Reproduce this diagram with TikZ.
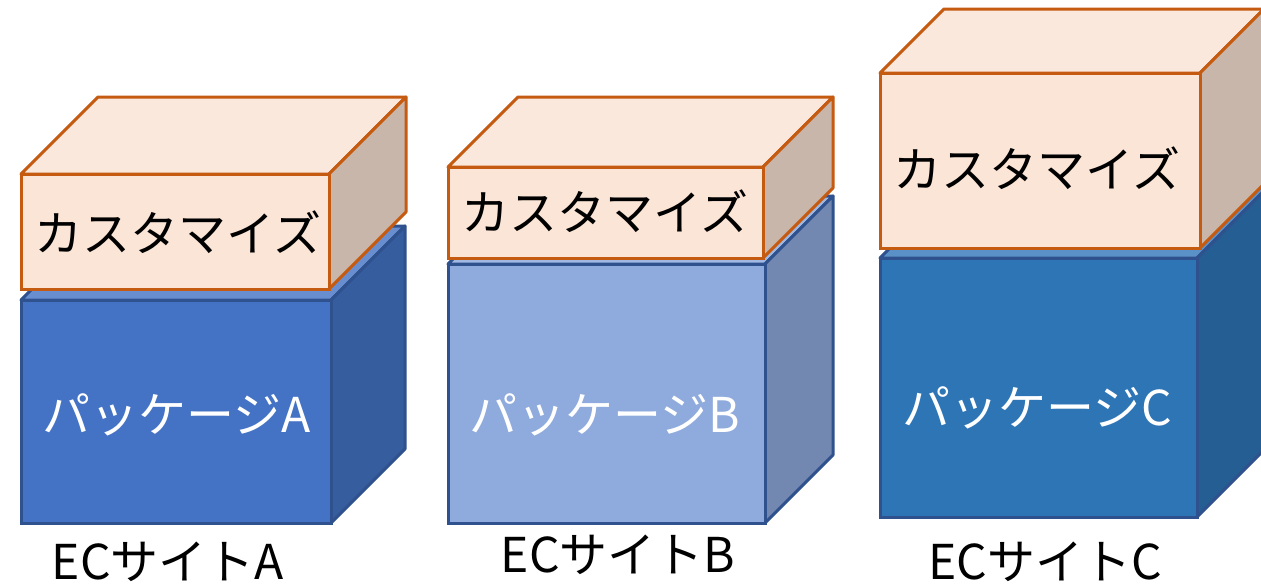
\documentclass[tikz,border=0pt]{standalone}
\usepackage{fontspec}
\newfontfamily\jpfont{Noto Sans CJK JP}
\usepackage{tikz}
\usetikzlibrary{positioning}

\definecolor{custfront}{HTML}{FBE5D6}
\definecolor{custtop}{HTML}{FBE8DC}
\definecolor{custside}{HTML}{C9B6AA}
\definecolor{custline}{HTML}{C55A11}
\definecolor{pkgAfront}{HTML}{4472C4}
\definecolor{pkgAtop}{HTML}{698ED0}
\definecolor{pkgAside}{HTML}{365D9E}
\definecolor{pkgAline}{HTML}{2F528F}
\definecolor{pkgBfront}{HTML}{8FAADC}
\definecolor{pkgBtop}{HTML}{A0B8E2}
\definecolor{pkgBside}{HTML}{7388B0}
\definecolor{pkgBline}{HTML}{2F528F}
\definecolor{pkgCfront}{HTML}{2E75B6}
\definecolor{pkgCtop}{HTML}{5A92C8}
\definecolor{pkgCside}{HTML}{255E92}
\definecolor{pkgCline}{HTML}{2F528F}

% #1 colour prefix, #2 x, #3 y (front top left), #4 width, #5 height, #6 depth
\newcommand{\cuboid}[6]{%
  \draw[draw=#1line, fill=#1top, line width=1.5pt, line join=round]
    (#2,#3) -- ++(#6,-#6) -- ++(#4,0) -- ++(-#6,#6) -- cycle;
  \draw[draw=#1line, fill=#1side, line width=1.5pt, line join=round]
    (#2+#4,#3) -- ++(#6,-#6) -- ++(0,#5) -- ++(-#6,#6) -- cycle;
  \draw[draw=#1line, fill=#1front, line width=1.5pt]
    (#2,#3) rectangle ++(#4,#5);
}

\begin{document}
\begin{tikzpicture}[x={(0.5pt,0)}, y={(0,-0.5pt)},
    every node/.style={font=\jpfont\fontsize{24}{27}\selectfont, inner sep=0pt},
    custtext/.style={text=black},
    pkgtext/.style={text=white},
    sitetext/.style={text=black}
]
\useasboundingbox (0,0) rectangle (1261,586);
\clip (0,0) rectangle (1261,586);

% site A
\cuboid{pkgA}{21}{300}{310}{223}{74}
\cuboid{cust}{21}{174}{308}{115}{77}
\node (custA) [custtext] at (178,232) {カスタマイズ};
\node (pkgA) [pkgtext] at (177,415) {パッケージA};
\node (siteA) [sitetext] at (168,562) {ECサイトA};

% site B
\cuboid{pkgB}{448}{264}{317}{259}{68}
\cuboid{cust}{448}{167}{315}{91}{70}
\node (custB) [custtext] at (605,211) {カスタマイズ};
\node (pkgB) [pkgtext] at (605,415) {パッケージB};
\node (siteB) [sitetext] at (618,555) {ECサイトB};

% site C
\cuboid{pkgC}{880}{258}{317}{259}{70}
\cuboid{cust}{880}{73}{320}{175}{64}
\node (custC) [custtext] at (1037,168) {カスタマイズ};
\node (pkgC) [pkgtext] at (1037,408) {パッケージC};
\node (siteC) [sitetext] at (1045,562) {ECサイトC};

\end{tikzpicture}
\end{document}
